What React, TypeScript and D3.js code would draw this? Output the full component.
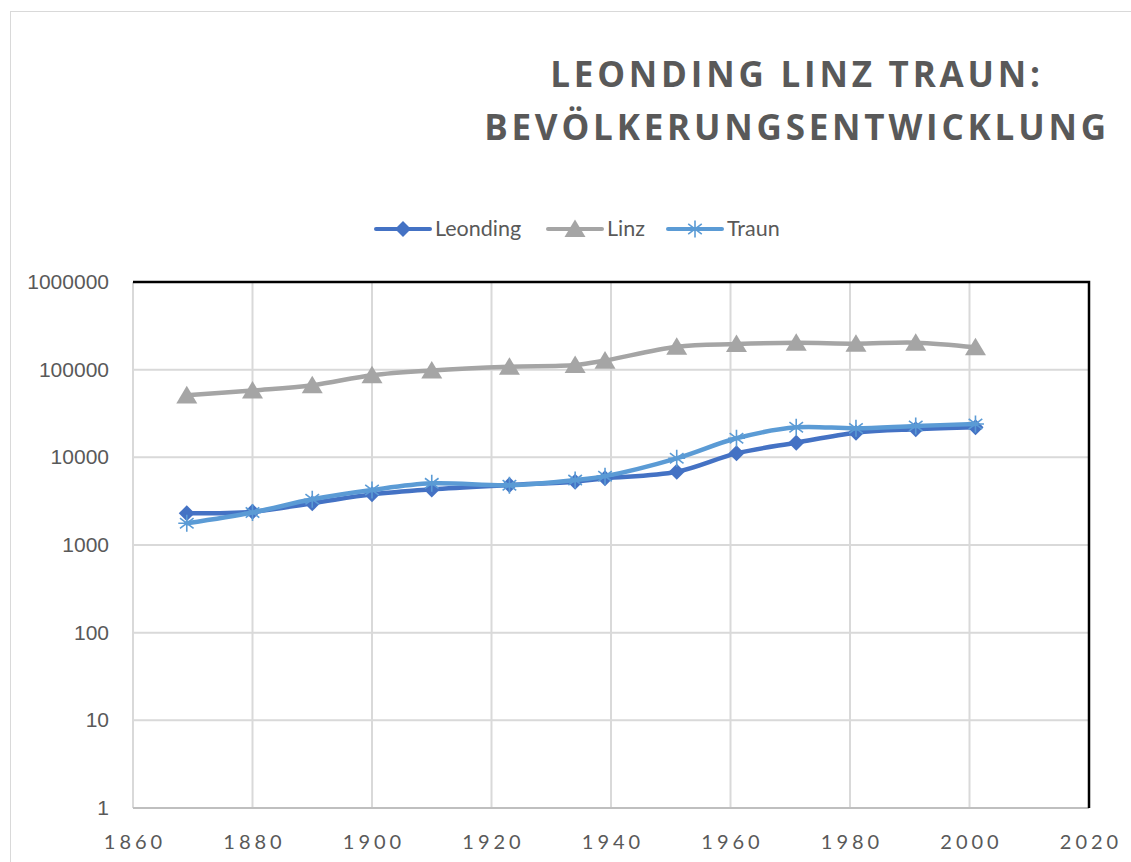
import React from "react";
import * as d3 from "d3";

// census years and population per town
const years = [1869, 1880, 1890, 1900, 1910, 1923, 1934, 1939, 1951, 1961, 1971, 1981, 1991, 2001];
const leonding = [2300, 2400, 2990, 3780, 4310, 4830, 5270, 5760, 6850, 11100, 14700, 19100, 20900, 22000];
const linz = [51000, 58000, 66500, 86500, 98000, 108000, 113000, 127000, 183000, 196000, 203000, 198000, 203000, 180000];
const traun = [1770, 2350, 3320, 4240, 5050, 4800, 5500, 6100, 9750, 16500, 22000, 21400, 22800, 24000];

const xTicks = [1860, 1880, 1900, 1920, 1940, 1960, 1980, 2000, 2020];
const yTicks = [1, 10, 100, 1000, 10000, 100000, 1000000];

const seriesNames = ["Leonding", "Linz", "Traun"];
const seriesColors = ["#4472C4", "#A5A5A5", "#5B9BD5"];

type Pt = { year: number; value: number };

const width = 1131;
const height = 862;
const margin = { top: 282, right: 42, bottom: 54, left: 133 };

const xScale = d3.scaleLinear().domain([1860, 2020]).range([margin.left, width - margin.right]);
const yScale = d3.scaleLog().domain([1, 1000000]).range([height - margin.bottom, margin.top]);

const line = d3
  .line<Pt>()
  .x((d) => xScale(d.year))
  .y((d) => yScale(d.value))
  .curve(d3.curveCatmullRom.alpha(0.5));

const marker = (kind: number, x: number, y: number, color: string, key: string) => {
  if (kind === 0) {
    const r = 8;
    return (
      <path key={key} d={`M${x},${y - r}L${x + r},${y}L${x},${y + r}L${x - r},${y}Z`} fill={color} />
    );
  }
  if (kind === 1) {
    const s = 9.5;
    return (
      <path key={key} d={`M${x},${y - s}L${x + s + 1},${y + s * 0.85}L${x - s - 1},${y + s * 0.85}Z`} fill={color} />
    );
  }
  const r = 8.5;
  const dx = r * 0.8;
  const dy = r * 0.6;
  return (
    <path
      key={key}
      d={`M${x},${y - r}L${x},${y + r}M${x - dx},${y - dy}L${x + dx},${y + dy}M${x - dx},${y + dy}L${x + dx},${y - dy}M${x - r},${y}L${x + r},${y}`}
      stroke={color}
      strokeWidth={1.6}
      fill="none"
    />
  );
};

const App: React.FC = () => {
  const series = [leonding, linz, traun].map((vals) => years.map((y, i) => ({ year: y, value: vals[i] })));
  const x0 = margin.left;
  const x1 = width - margin.right;
  const y0 = height - margin.bottom;
  const y1 = margin.top;
  const legendX = [376, 548, 668];

  return (
    <svg width={width} height={height} style={{ position: "absolute", left: 0, top: 0, background: "#fff" }}>
      <rect x={10.5} y={11.5} width={width} height={height} fill="#fff" stroke="#D9D9D9" strokeWidth={1} />

      <g fontFamily="'Open Sans', sans-serif" fontWeight={700} fontSize={35} fill="#595959" textAnchor="middle" letterSpacing={3.8}>
        <text x={797} y={87}>LEONDING LINZ TRAUN:</text>
        <text x={797} y={140}>BEVÖLKERUNGSENTWICKLUNG</text>
      </g>

      {/* legend */}
      <g fontFamily="Lato, sans-serif" fontSize={21.5} fill="#595959">
        {seriesNames.map((n, i) => (
          <g key={n}>
            <line x1={legendX[i]} x2={legendX[i] + 54} y1={229} y2={229} stroke={seriesColors[i]} strokeWidth={4} strokeLinecap="round" />
            {marker(i, legendX[i] + 27, 229, seriesColors[i], "lm" + i)}
            <text x={legendX[i] + 59} y={236}>{n}</text>
          </g>
        ))}
      </g>

      {/* grid */}
      <g stroke="#D9D9D9" strokeWidth={2}>
        {xTicks.slice(1, -1).map((t) => (
          <line key={t} x1={xScale(t)} x2={xScale(t)} y1={y1} y2={y0} />
        ))}
        {yTicks.slice(1, -1).map((t) => (
          <line key={t} x1={x0} x2={x1} y1={yScale(t)} y2={yScale(t)} />
        ))}
        <line x1={x0} x2={x0} y1={y1} y2={y0} />
      </g>
      <line x1={x0} x2={x1} y1={y0} y2={y0} stroke="#BFBFBF" strokeWidth={2} />
      <path d={`M${x0},${y1}L${x1},${y1}L${x1},${y0}`} fill="none" stroke="#000" strokeWidth={2.5} />

      {/* axis labels */}
      <g fontFamily="'Liberation Sans', Arial, sans-serif" fontSize={21} fill="#595959" textAnchor="end">
        {yTicks.map((t) => (
          <text key={t} x={109} y={yScale(t) + 7}>{t}</text>
        ))}
      </g>
      <g fontFamily="Lato, sans-serif" fontSize={20} fill="#595959" textAnchor="middle" letterSpacing={4}>
        {xTicks.map((t) => (
          <text key={t} x={xScale(t) + 2} y={849}>{t}</text>
        ))}
      </g>

      {/* series */}
      {series.map((s, i) => (
        <g key={seriesNames[i]}>
          <path d={line(s) ?? ""} fill="none" stroke={seriesColors[i]} strokeWidth={4.5} strokeLinejoin="round" strokeLinecap="round" />
          {s.map((d, j) => marker(i, xScale(d.year), yScale(d.value), seriesColors[i], `m${i}-${j}`))}
        </g>
      ))}
    </svg>
  );
};

export default App;
